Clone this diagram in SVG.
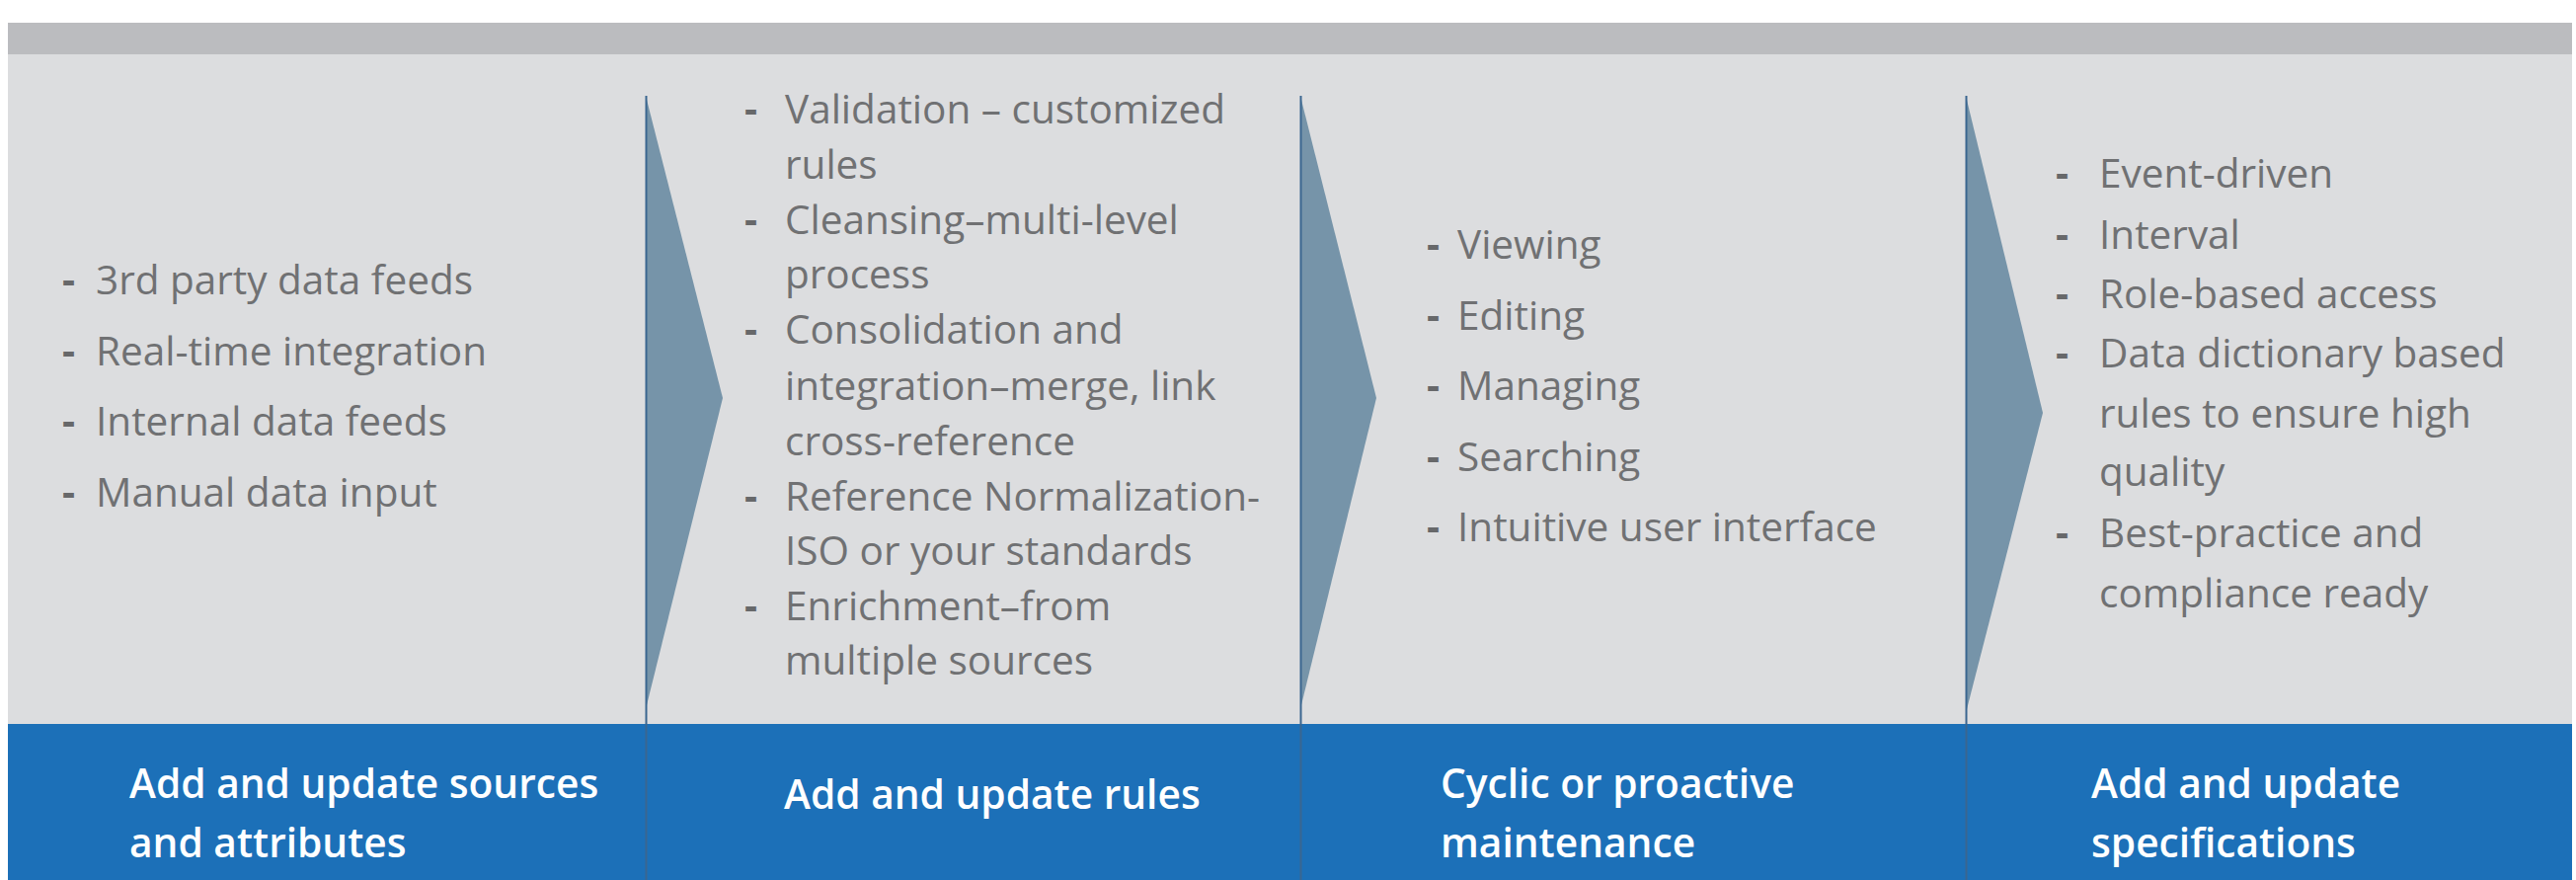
<svg xmlns="http://www.w3.org/2000/svg" width="2609" height="891" viewBox="0 0 2609 891">
<style>
.body{font-family:"Open Sans","Liberation Sans",sans-serif;font-size:40.5px;fill:#707173}
.dash{font-family:"Open Sans","Liberation Sans",sans-serif;font-size:40.5px;font-weight:700;fill:#67686a}
.head{font-family:"Open Sans","Liberation Sans",sans-serif;font-size:40.7px;font-weight:600;fill:#ffffff}
.tri{fill:#7694a9}
.div{stroke:#3a6690;stroke-width:2}
</style>
<rect x="0" y="0" width="2609" height="891" fill="#ffffff"/>
<rect x="8" y="23" width="2597" height="32" fill="#bbbcbf"/>
<rect x="8" y="55" width="2597" height="678" fill="#dcdddf"/>
<rect x="8" y="733" width="2597" height="158" fill="#1c70b8"/>
<g id="connectors">
<polygon class="tri" points="654,97 732,403 654,718"/>
<line class="div" x1="654.5" y1="97" x2="654.5" y2="891"/>
<polygon class="tri" points="1317,97 1394,403 1317,718"/>
<line class="div" x1="1317.5" y1="97" x2="1317.5" y2="891"/>
<polygon class="tri" points="1991,97 2069,418 1991,722"/>
<line class="div" x1="1991.5" y1="97" x2="1991.5" y2="891"/>
</g>
<g id="col1">
<text class="dash" x="63" y="298">-</text><text class="body" x="97" y="298">3rd party data feeds</text>
<text class="dash" x="63" y="370">-</text><text class="body" x="97" y="370">Real-time integration</text>
<text class="dash" x="63" y="441">-</text><text class="body" x="97" y="441">Internal data feeds</text>
<text class="dash" x="63" y="513">-</text><text class="body" x="97" y="513">Manual data input</text>
<text class="head" x="131" y="808">Add and update sources</text>
<text class="head" x="131" y="868">and attributes</text>
</g>
<g id="col2">
<text class="dash" x="754" y="125">-</text><text class="body" x="795" y="125">Validation – customized</text>
<text class="body" x="795" y="181">rules</text>
<text class="dash" x="754" y="237">-</text><text class="body" x="795" y="237">Cleansing–multi-level</text>
<text class="body" x="795" y="292">process</text>
<text class="dash" x="754" y="348">-</text><text class="body" x="795" y="348">Consolidation and</text>
<text class="body" x="795" y="405">integration–merge, link</text>
<text class="body" x="795" y="461">cross-reference</text>
<text class="dash" x="754" y="517">-</text><text class="body" x="795" y="517">Reference Normalization-</text>
<text class="body" x="795" y="572">ISO or your standards</text>
<text class="dash" x="754" y="628">-</text><text class="body" x="795" y="628">Enrichment–from</text>
<text class="body" x="795" y="683">multiple sources</text>
<text class="head" x="794" y="819">Add and update rules</text>
</g>
<g id="col3">
<text class="dash" x="1445" y="262">-</text><text class="body" x="1476" y="262">Viewing</text>
<text class="dash" x="1445" y="334">-</text><text class="body" x="1476" y="334">Editing</text>
<text class="dash" x="1445" y="405">-</text><text class="body" x="1476" y="405">Managing</text>
<text class="dash" x="1445" y="477">-</text><text class="body" x="1476" y="477">Searching</text>
<text class="dash" x="1445" y="548">-</text><text class="body" x="1476" y="548">Intuitive user interface</text>
<text class="head" x="1459" y="808">Cyclic or proactive</text>
<text class="head" x="1459" y="868">maintenance</text>
</g>
<g id="col4">
<text class="dash" x="2082" y="190">-</text><text class="body" x="2126" y="190">Event-driven</text>
<text class="dash" x="2082" y="252">-</text><text class="body" x="2126" y="252">Interval</text>
<text class="dash" x="2082" y="312">-</text><text class="body" x="2126" y="312">Role-based access</text>
<text class="dash" x="2082" y="372">-</text><text class="body" x="2126" y="372">Data dictionary based</text>
<text class="body" x="2126" y="433">rules to ensure high</text>
<text class="body" x="2126" y="492">quality</text>
<text class="dash" x="2082" y="554">-</text><text class="body" x="2126" y="554">Best-practice and</text>
<text class="body" x="2126" y="615">compliance ready</text>
<text class="head" x="2118" y="808">Add and update</text>
<text class="head" x="2118" y="868">specifications</text>
</g>
</svg>
